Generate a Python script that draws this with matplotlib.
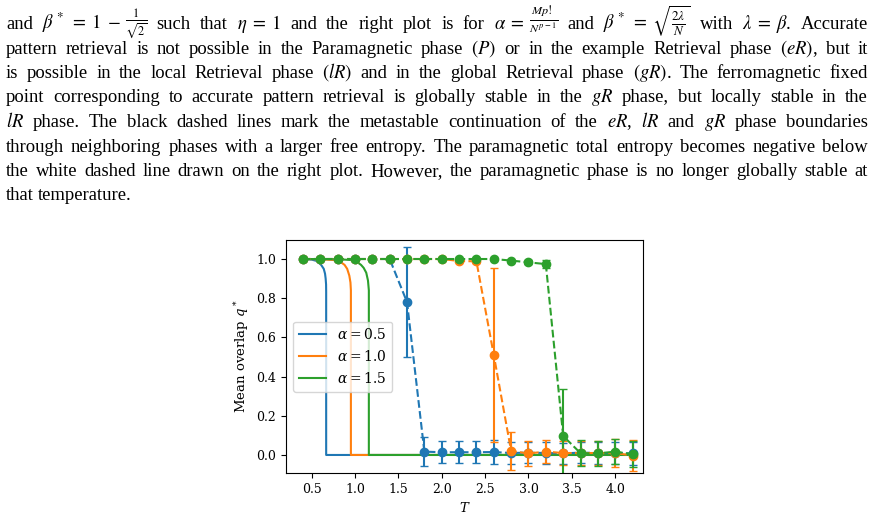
import matplotlib
matplotlib.use('Agg')
import matplotlib.pyplot as plt
import numpy as np


#%% Data

# theory curves (solid)
T_th_05 = [0.40, 0.50, 0.56, 0.61, 0.64, 0.655, 0.662, 0.667, 0.668, 0.668, 4.20]
q_th_05 = [1.000, 0.997, 0.990, 0.970, 0.950, 0.925, 0.900, 0.870, 0.830, 0.0, 0.0]
T_th_10 = [0.40, 0.60, 0.75, 0.83, 0.88, 0.91, 0.935, 0.948, 0.953, 0.953, 4.20]
q_th_10 = [1.000, 0.999, 0.995, 0.986, 0.970, 0.950, 0.915, 0.880, 0.840, 0.0, 0.0]
T_th_15 = [0.40, 0.80, 0.95, 1.02, 1.07, 1.10, 1.13, 1.150, 1.160, 1.160, 4.20]
q_th_15 = [1.000, 0.999, 0.995, 0.986, 0.970, 0.955, 0.930, 0.890, 0.840, 0.0, 0.0]

# simulations (dashed with error bars)
T_sim = [0.4, 0.6, 0.8, 1.0, 1.2, 1.4, 1.6, 1.8, 2.0, 2.2,
         2.4, 2.6, 2.8, 3.0, 3.2, 3.4, 3.6, 3.8, 4.0, 4.2]
q_sim_05 = [1.0, 1.0, 1.0, 1.0, 1.0, 1.0, 0.78, 0.017, 0.014, 0.014,
            0.014, 0.015, 0.010, 0.012, 0.010, 0.008, 0.012, 0.010, 0.010, 0.008]
e_sim_05 = [0, 0, 0, 0, 0, 0, 0.28, 0.073, 0.055, 0.055,
            0.055, 0.060, 0.055, 0.055, 0.055, 0.055, 0.055, 0.055, 0.055, 0.060]
q_sim_10 = [1.0, 1.0, 1.0, 1.0, 1.0, 1.0, 1.0, 1.0, 1.0, 0.99,
            0.988, 0.51, 0.020, 0.008, 0.017, 0.010, 0.010, 0.010, 0.010, -0.003]
e_sim_10 = [0, 0, 0, 0, 0, 0, 0, 0, 0, 0.005,
            0.01, 0.445, 0.095, 0.065, 0.058, 0.060, 0.060, 0.060, 0.070, 0.080]
q_sim_15 = [1.0, 1.0, 1.0, 1.0, 1.0, 1.0, 1.0, 1.0, 1.0, 1.0,
            1.0, 1.0, 0.992, 0.983, 0.974, 0.097, 0.009, 0.008, 0.017, 0.004]
e_sim_15 = [0, 0, 0, 0, 0, 0, 0, 0, 0, 0,
            0, 0, 0.005, 0.01, 0.02, 0.24, 0.065, 0.065, 0.065, 0.065]

labels = [r'$\alpha = 0.5$', r'$\alpha = 1.0$', r'$\alpha = 1.5$']
colors = ['tab:blue', 'tab:orange', 'tab:green']

# caption lines; '~' at the end of a word glues it to the next one,
# '%' at the start marks an inline fraction (raised a little)
caption = [
    r"and $\beta^*\;=\;1\;-$~ %$\frac{1}{\sqrt{2}}$ such that $\eta\;=\;1$ and the right plot is for "
    r"$\alpha\;=$~ %$\frac{Mp!}{N^{p-1}}$ and $\beta^*\;=\;\sqrt{\frac{2\lambda}{N}}$ with "
    r"$\lambda\;=\;\beta$. Accurate",
    r"pattern retrieval is not possible in the Paramagnetic phase $(P)$ or in the example "
    r"Retrieval phase $(eR)$, but it",
    r"is possible in the local Retrieval phase $(lR)$ and in the global Retrieval phase "
    r"$(gR)$. The ferromagnetic fixed",
    r"point corresponding to accurate pattern retrieval is globally stable in the $gR$ "
    r"phase, but locally stable in the",
    r"$lR$ phase. The black dashed lines mark the metastable continuation of the $eR$, "
    r"$lR$ and $gR$ phase boundaries",
    "through neighboring phases with a larger free entropy. The paramagnetic total "
    "entropy becomes negative below",
    "the white dashed line drawn on the right plot. However, the paramagnetic phase is "
    "no longer globally stable at",
    "that temperature.",
]


#%% Figure

plt.rcParams['font.family'] = 'DejaVu Serif'
plt.rcParams['mathtext.fontset'] = 'dejavuserif'

W, H, DPI = 876, 518, 100
fig = plt.figure(figsize=(W / DPI, H / DPI), dpi=DPI)
renderer = fig.canvas.get_renderer()

# justified caption text
x_left, x_right = 6, 868
y0, dy = 29, 24.5
glue_gap = 4
for i, line in enumerate(caption):
    words = line.split(' ')
    texts, widths, glued, raise_px = [], [], [], []
    for w in words:
        size, r = 13.4, 0
        if w.startswith('%'):
            w, size, r = w[1:], 12.5, 5
        g = w.endswith('~')
        if g:
            w = w[:-1]
        t = fig.text(0, 0, w, fontsize=size, family='Liberation Serif',
                     math_fontfamily='stix', va='baseline', ha='left')
        texts.append(t)
        widths.append(t.get_window_extent(renderer).width)
        glued.append(g)
        raise_px.append(r)
    n_gaps = sum(1 for g in glued[:-1] if not g)
    n_glue = sum(1 for g in glued[:-1] if g)
    if i < len(caption) - 1:
        gap = (x_right - x_left - sum(widths) - n_glue * glue_gap) / n_gaps
    else:
        gap = 4.5
    x = x_left
    y = H - (y0 + i * dy)
    for t, w, g, r in zip(texts, widths, glued, raise_px):
        t.set_position((x / W, (y + r) / H))
        x += w + (glue_gap if g else gap)

# plot
ax = fig.add_axes([286 / W, 1 - 473 / H, (643 - 286) / W, (473 - 240) / H])

theory = [(T_th_05, q_th_05), (T_th_10, q_th_10), (T_th_15, q_th_15)]
for (T, q), c, lab in zip(theory, colors, labels):
    ax.plot(T, q, '-', color=c, lw=1.5, label=lab)

sims = [(q_sim_05, e_sim_05), (q_sim_10, e_sim_10), (q_sim_15, e_sim_15)]
for (q, e), c in zip(sims, colors):
    ax.errorbar(T_sim, q, yerr=e, fmt='o--', color=c, ms=6, lw=1.5,
                capsize=3, elinewidth=1.5)

ax.set_xlim(0.205, 4.32)
ax.set_ylim(-0.092, 1.097)
ax.set_xticks(np.arange(0.5, 4.01, 0.5))
ax.set_yticks(np.arange(0.0, 1.01, 0.2))
ax.tick_params(labelsize=9)
ax.set_xlabel(r'$T$', fontsize=9.5)
ax.set_ylabel(r'Mean overlap $q^*$', fontsize=9.5)

ax.legend(loc='center left', fontsize=10)

fig.savefig('out.png', dpi=DPI)
